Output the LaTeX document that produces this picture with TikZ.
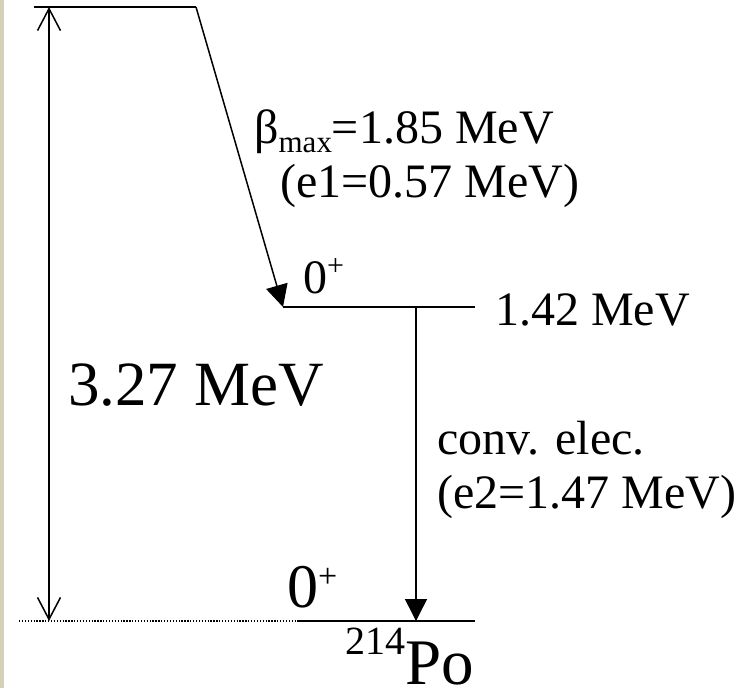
\documentclass[tikz,border=0pt]{standalone}
\usepackage{fontspec}
\setmainfont{Liberation Serif}
\usetikzlibrary{arrows.meta}
\definecolor{stripbeige}{RGB}{212,208,184}
\begin{document}
\begin{tikzpicture}[x=1pt,y=-1pt,
  lvl/.style={line width=1.7pt},
  dotline/.style={line width=1.3pt, dash pattern=on 1.3pt off 1.6pt},
  openarrow/.style={line width=1.5pt, {Straight Barb[length=22pt,width=23pt,line width=1.5pt]}-{Straight Barb[length=22pt,width=23pt,line width=1.5pt]}},
  solidarrow/.style={line width=1.5pt, -{Triangle[length=22pt,width=22pt]}},
  txt/.style={inner sep=0pt, anchor=base west, font=\fontsize{48}{54}\selectfont}]
\useasboundingbox (0,0) rectangle (740,688);
\fill[white] (0,0) rectangle (740,688);
\fill[stripbeige] (0,0) rectangle (3.5,688);

% coordinates
\coordinate (pT) at (34,7);
\coordinate (bS) at (196,7);
\coordinate (qT) at (49,7);
\coordinate (qB) at (49,621);
\coordinate (m1) at (283,307);
\coordinate (m1e) at (475,307);
\coordinate (cS) at (416,307);
\coordinate (cE) at (416,621);
\coordinate (gL) at (19,621);
\coordinate (gM) at (298,621);
\coordinate (gR) at (475,621);

% levels
\draw[lvl] (pT) -- (bS);
\draw[lvl] (m1) -- (m1e);
\draw[lvl] (gM) -- (gR);
\draw[dotline] (gL) -- (gM);

% arrows
\draw[openarrow] (qT) -- (qB);
\draw[solidarrow] (bS) -- (m1);
\draw[solidarrow] (cS) -- (cE);

% texts
\node[txt] (beta) at (254,143) {β\raisebox{-9pt}{\fontsize{31}{31}\selectfont max}=1.85 MeV};
\node[txt] (e1) at (280,197) {(e1=0.57 MeV)};
\node[txt] (lvl1) at (495,325) {1.42 MeV};
\node[txt] (spin1) at (303,293) {0\raisebox{18pt}{\fontsize{30}{30}\selectfont +}};
\node[txt, font=\fontsize{63}{72}\selectfont] (qval) at (68,405) {3.27 MeV};
\node[txt] (conv) at (437,454) {conv. elec.};
\node[txt] (e2) at (437,508) {(e2=1.47 MeV)};
\node[txt, font=\fontsize{62}{70}\selectfont] (spin0) at (287,607) {0\raisebox{20pt}{\fontsize{34}{34}\selectfont +}};
\node[txt, font=\fontsize{65}{70}\selectfont] (po) at (345,684) {\raisebox{30pt}{\fontsize{40}{40}\selectfont 214}Po};
\end{tikzpicture}
\end{document}
